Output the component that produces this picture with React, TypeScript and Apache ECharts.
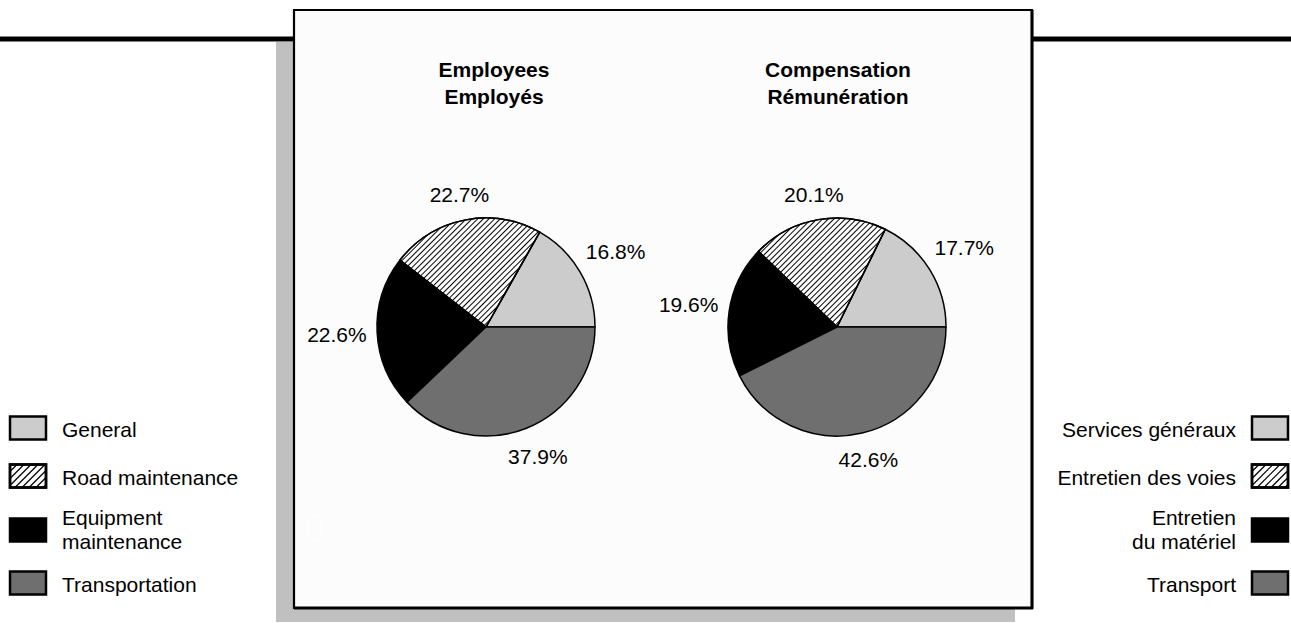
import React, { useEffect, useRef } from "react";
import * as echarts from "echarts";

// ---- data ----
const categoriesEn = ["General", "Road maintenance", "Equipment\nmaintenance", "Transportation"];
const categoriesFr = ["Services généraux", "Entretien des voies", "Entretien\ndu matériel", "Transport"];
const employeesShare = [16.8, 22.7, 22.6, 37.9];
const compensationShare = [17.7, 20.1, 19.6, 42.6];
const pieTitles = ["Employees\nEmployés", "Compensation\nRémunération"];

// ---- styles ----
const FONT = '"Liberation Sans", Arial, sans-serif';
const FS = 21;
const fills = ["#cccccc", "#ffffff", "#000000", "#6f6f6f"];
const hatchIndex = 1;

const PIE_R = 109;
const PIE_CY = 327;
const PIE_CX = [486, 837];
const TITLE_X = [494, 838];

// legend layout (visual placement)
const legendCenters = [428, 476, 530, 583];
const BOX_W = 36;
const BOX_H = 23;

function itemStyleFor(i: number) {
  const s: any = { color: fills[i], borderColor: "#000", borderWidth: 1.5 };
  if (i === hatchIndex) {
    s.decal = {
      symbol: "rect",
      symbolSize: 1,
      color: "#000",
      dashArrayX: [1, 0],
      dashArrayY: [1, 3],
      rotation: -Math.PI / 4,
    };
  }
  return s;
}

function makeLabelLayout(vals: number[], cx: number, cy: number, r: number) {
  const total = vals.reduce((a, b) => a + b, 0);
  return (params: any) => {
    const idx = params.dataIndex;
    let before = 0;
    for (let i = 0; i < idx; i++) before += vals[i];
    const mid = ((before + vals[idx] / 2) / total) * Math.PI * 2;
    const dx = Math.cos(mid);
    const dy = -Math.sin(mid);
    const hw = params.labelRect.width / 2;
    const hh = params.labelRect.height / 2;
    const g = 10;
    const t = r + g + hw * Math.abs(dx) + hh * Math.abs(dy);
    return {
      x: cx + dx * t,
      y: cy + dy * t,
      align: "center",
      verticalAlign: "middle",
    };
  };
}

function pieSeries(names: string[], vals: number[], k: number) {
  return {
    type: "pie",
    center: [PIE_CX[k], PIE_CY],
    radius: PIE_R,
    startAngle: 0,
    clockwise: false,
    avoidLabelOverlap: false,
    silent: true,
    data: vals.map((v, i) => ({ name: names[i], value: v, itemStyle: itemStyleFor(i) })),
    label: {
      show: true,
      position: "outside",
      formatter: (p: any) => p.value.toFixed(1) + "%",
      fontSize: FS,
      fontFamily: FONT,
      color: "#000",
    },
    labelLine: { show: false, length: 1, length2: 0 },
    labelLayout: makeLabelLayout(vals, PIE_CX[k], PIE_CY, PIE_R),
    emphasis: { disabled: true },
  };
}

function legendBox(x: number, cy: number, i: number): any[] {
  const y = cy - BOX_H / 2;
  const els: any[] = [
    {
      type: "rect",
      shape: { x, y, width: BOX_W, height: BOX_H },
      style: { fill: fills[i], stroke: "#000", lineWidth: 2.5 },
    },
  ];
  if (i === hatchIndex) {
    for (let k = -BOX_H; k < BOX_W; k += 7) {
      const tmin = Math.max(0, -k);
      const tmax = Math.min(BOX_H, BOX_W - k);
      if (tmax > tmin) {
        els.push({
          type: "line",
          shape: { x1: x + k + tmin, y1: y + BOX_H - tmin, x2: x + k + tmax, y2: y + BOX_H - tmax },
          style: { stroke: "#000", lineWidth: 1.2 },
        });
      }
    }
    els.push({
      type: "rect",
      shape: { x, y, width: BOX_W, height: BOX_H },
      style: { fill: "none", stroke: "#000", lineWidth: 2.5 },
    });
  }
  return els;
}

export default function App() {
  const ref = useRef<HTMLDivElement>(null);
  useEffect(() => {
    if (!ref.current) return;
    const chart = echarts.init(ref.current, null, { renderer: "svg" });

    const graphics: any[] = [
      // shadow
      { type: "rect", z: -10, shape: { x: 276, y: 42, width: 739, height: 580 }, style: { fill: "#c0c0c0" } },
      // thick rules
      { type: "line", z: -9, shape: { x1: 0, y1: 39, x2: 294, y2: 39 }, style: { stroke: "#000", lineWidth: 5 } },
      { type: "line", z: -9, shape: { x1: 1032, y1: 39, x2: 1291, y2: 39 }, style: { stroke: "#000", lineWidth: 5 } },
      // frame
      {
        type: "rect",
        z: -8,
        shape: { x: 294, y: 10, width: 738, height: 598 },
        style: { fill: "#fcfcfc", stroke: "#000", lineWidth: 2.2 },
      },
      { type: "line", z: -7, shape: { x1: 1032, y1: 10, x2: 1032, y2: 609 }, style: { stroke: "#000", lineWidth: 3 } },
      { type: "line", z: -7, shape: { x1: 294, y1: 608, x2: 1033, y2: 608 }, style: { stroke: "#000", lineWidth: 3 } },
      { type: "rect", z: -7, shape: { x: 307, y: 515, width: 13, height: 25 }, style: { fill: "none", stroke: "#ffffff", lineWidth: 1 } },
    ];

    pieTitles.forEach((t, k) => {
      graphics.push({
        type: "text",
        x: TITLE_X[k],
        y: 56,
        style: {
          text: t,
          fill: "#000",
          font: `bold ${FS}px ${FONT}`,
          align: "center",
          verticalAlign: "top",
          lineHeight: 27,
        },
      });
    });

    const textY = (i: number) => legendCenters[i] + (i === 2 ? -1 : 1);

    categoriesEn.forEach((name, i) => {
      legendBox(10, legendCenters[i], i).forEach((e) => graphics.push(e));
      graphics.push({
        type: "text",
        x: 62,
        y: textY(i),
        style: {
          text: name,
          fill: "#000",
          font: `${FS}px ${FONT}`,
          align: "left",
          verticalAlign: "middle",
          lineHeight: 24,
        },
      });
    });
    categoriesFr.forEach((name, i) => {
      legendBox(1252, legendCenters[i], i).forEach((e) => graphics.push(e));
      graphics.push({
        type: "text",
        x: 1236,
        y: textY(i),
        style: {
          text: name,
          fill: "#000",
          font: `${FS}px ${FONT}`,
          align: "right",
          verticalAlign: "middle",
          lineHeight: 24,
        },
      });
    });

    chart.setOption({
      animation: false,
      backgroundColor: "#ffffff",
      graphic: { elements: graphics },
      series: [pieSeries(categoriesEn, employeesShare, 0), pieSeries(categoriesFr, compensationShare, 1)],
    });
    return () => chart.dispose();
  }, []);
  return (
    <div
      ref={ref}
      style={{ position: "absolute", left: 0, top: 0, width: 1291, height: 623 }}
    />
  );
}
